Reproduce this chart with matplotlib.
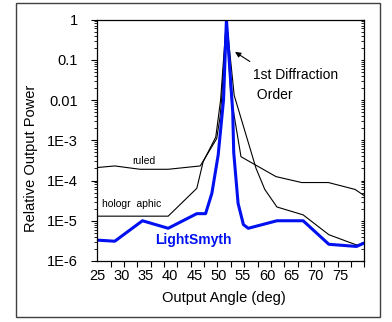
import numpy as np
import matplotlib
matplotlib.use("Agg")
import matplotlib.pyplot as plt
from matplotlib import font_manager
from matplotlib.patches import Rectangle

# data (angle in deg, relative power)
ruled_x = [25, 28.6, 33.8, 39.6, 46.2, 49.6, 50.3, 50.6, 51.6, 52.5, 54.6, 61.8, 67.1, 72.6, 78.1, 80]
ruled_y = [2.1e-4, 2.3e-4, 1.9e-4, 1.9e-4, 2.3e-4, 1.1e-3, 3.9e-3, 1e-2, 1, 1.3e-2, 3.9e-4, 1.25e-4, 8.9e-5, 8.9e-5, 6e-5, 4.2e-5]

holo_x = [25, 39.6, 45.5, 46.8, 49.4, 50.4, 51.6, 53.2, 57.7, 59.5, 62, 67.4, 72.7, 78.4, 80]
holo_y = [1.3e-5, 1.3e-5, 6.4e-5, 2.9e-4, 1.2e-3, 1e-2, 1, 1.3e-2, 2e-4, 6e-5, 2.2e-5, 1.4e-5, 4.5e-6, 2.5e-6, 2.8e-6]

ls_x = [25, 28.6, 34.3, 39.6, 45.5, 47.3, 48.6, 49.9, 51.0, 51.6, 52.9, 53.1, 54.0, 55.1, 56.1, 62, 67.4, 72.7, 78.4, 80]
ls_y = [3.3e-6, 3.1e-6, 1e-5, 6.5e-6, 1.5e-5, 1.5e-5, 4.8e-5, 4.3e-4, 1e-2, 1, 5e-3, 5e-4, 2.7e-5, 8e-6, 6.5e-6, 1e-5, 1e-5, 2.6e-6, 2.3e-6, 2.8e-6]

xtick_vals = [25, 30, 35, 40, 45, 50, 55, 60, 65, 70, 75]
ytick_vals = [1e-6, 1e-5, 1e-4, 1e-3, 1e-2, 1e-1, 1]
ytick_labels = ["1E-6", "1E-5", "1E-4", "1E-3", "0.01", "0.1", "1"]

names = {f.name for f in font_manager.fontManager.ttflist}
if "Liberation Sans Narrow" in names:
    fam = ["Liberation Sans Narrow", "DejaVu Sans"]
    fs = 12
else:
    fam = ["Liberation Sans", "DejaVu Sans"]
    fs = 10
plt.rcParams["font.family"] = fam

W, H = 392, 322
fig = plt.figure(figsize=(W / 100, H / 100), dpi=100)
ax = fig.add_axes([97.3 / W, 1 - 261 / H, (364.3 - 97.3) / W, (261 - 19.5) / H])

ax.plot(ruled_x, ruled_y, color="black", lw=0.8)
ax.plot(holo_x, holo_y, color="black", lw=0.8)
ax.plot(ls_x, ls_y, color="#0010f0", lw=2.2)

ax.set_yscale("log")
ax.set_xlim(25, 80)
ax.set_ylim(1e-6, 1)

ax.set_xticks(xtick_vals)
ax.set_xticklabels([str(v) for v in xtick_vals], fontsize=fs + 0.5)
ax.set_xticks(np.linspace(25, 80, 21), minor=True)
ax.tick_params(axis="x", which="major", length=0, pad=6)
ax.tick_params(axis="x", which="minor", length=4, width=0.8, direction="out")

ax.set_yticks(ytick_vals)
ax.set_yticklabels(ytick_labels, fontsize=fs + 0.5)
ax.yaxis.set_minor_locator(matplotlib.ticker.LogLocator(base=10, subs=np.arange(2, 10)))
ax.yaxis.set_minor_formatter(matplotlib.ticker.NullFormatter())
ax.tick_params(axis="y", which="major", length=4, width=0.8, direction="out", right=True, pad=10)
ax.tick_params(axis="y", which="minor", length=2.5, width=0.6, direction="out", right=True)
for t in ax.yaxis.get_major_ticks() + ax.yaxis.get_minor_ticks():
    t.tick2line.set_marker(matplotlib.lines.TICKLEFT)
    t.tick2line.set_markersize(2)

for s in ax.spines.values():
    s.set_linewidth(0.9)

ax.text(34.6, 3.0e-4, "ruled", fontsize=fs - 2.5, ha="center", va="center")
ax.text(26.0, 2.6e-5, "hologr  aphic", fontsize=fs - 2.5, ha="left", va="center")
ax.text(36.9, 3.3e-6, "LightSmyth", fontsize=fs, fontweight="bold", color="#0010f0",
        ha="left", va="center")
ax.text(57.0, 0.042, "1st Diffraction", fontsize=fs, ha="left", va="center")
ax.text(57.0, 0.013, " Order", fontsize=fs, ha="left", va="center")
ax.annotate("", xy=(52.9, 0.17), xytext=(56.9, 0.083),
            arrowprops=dict(arrowstyle="-|>", color="black", lw=0.8, mutation_scale=8))

fig.text(31 / W, 1 - 158 / H, "Relative Output Power", rotation=90, fontsize=fs + 0.5,
         ha="center", va="center")
fig.text(224 / W, 1 - 298 / H, "Output Angle (deg)", fontsize=fs + 0.5, ha="center", va="center")

fig.add_artist(Rectangle((16 / W, 1 - 317 / H), (380 - 16) / W, (317 - 3) / H,
                         transform=fig.transFigure, fill=False, ec="#404040", lw=1))

fig.savefig("out.png", dpi=100)
